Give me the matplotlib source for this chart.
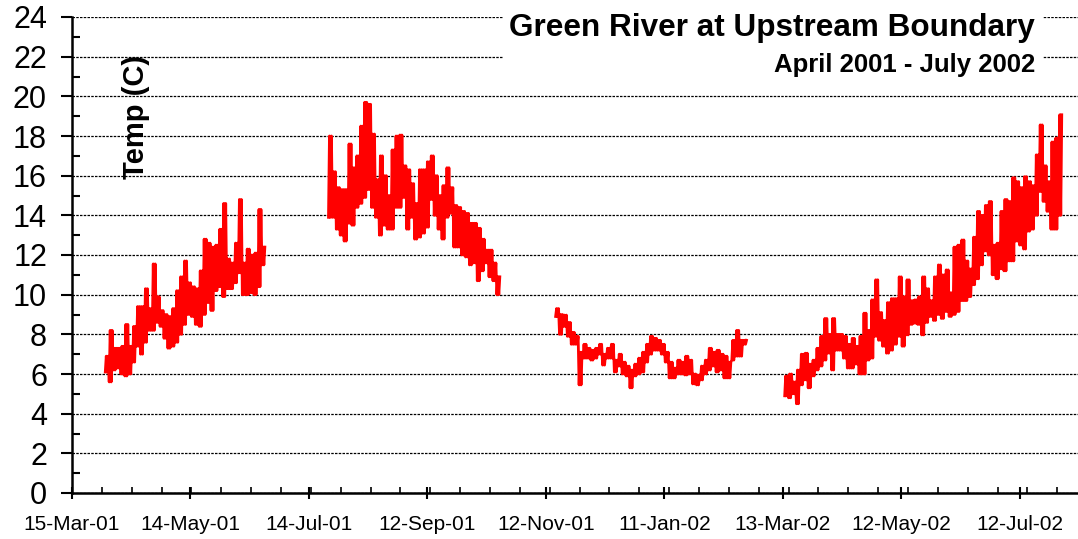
import matplotlib
matplotlib.use("Agg")
import matplotlib.pyplot as plt
import matplotlib.dates as mdates
from matplotlib.patches import Rectangle
import numpy as np
from datetime import datetime

plt.rcParams['font.family'] = ['Liberation Sans', 'DejaVu Sans']

# day 0 of the record / left end of the x axis
origin = datetime(2001, 3, 15)

# each segment: first day (days after origin), then 2-day low / high temps (C)
seg_starts = [17, 131, 247, 364]

seg1_lo = [6.1, 5.6, 6.2, 6.3, 6.0, 5.9, 6.0, 6.6, 7.4, 7.0,
           7.6, 8.2, 8.2, 8.6, 8.4, 7.8, 7.3, 7.4, 7.6, 8.0,
           8.5, 9.0, 8.9, 8.5, 8.4, 9.0, 9.6, 9.2, 10.2, 10.4,
           9.9, 10.3, 10.3, 10.6, 11.1, 10.0, 10.0, 10.1, 10.0, 10.4,
           11.5]
seg1_hi = [6.9, 8.2, 7.3, 7.3, 7.4, 8.5, 7.4, 8.4, 9.4, 9.4,
           10.3, 9.3, 11.55, 9.9, 9.2, 9.0, 8.9, 9.3, 10.2, 10.9,
           11.7, 10.6, 10.4, 10.3, 11.2, 12.8, 12.6, 12.4, 12.5, 13.3,
           14.6, 11.8, 11.6, 12.6, 14.8, 11.6, 12.3, 12.0, 12.1, 14.3,
           12.4]

seg2_lo = [13.9, 13.9, 13.3, 13.0, 12.7, 13.6, 13.5, 14.4, 14.6, 14.9,
           15.3, 14.4, 13.9, 13.0, 13.5, 13.3, 13.3, 14.4, 14.4, 14.9,
           13.3, 13.9, 12.8, 12.9, 13.1, 13.4, 14.8, 14.0, 13.3, 12.8,
           13.9, 14.1, 12.4, 12.4, 12.0, 11.9, 11.5, 11.6, 10.7, 11.2,
           11.6, 10.9, 10.7, 10.0]
seg2_hi = [18.0, 16.2, 15.4, 15.3, 15.3, 17.6, 16.4, 17.0, 18.5, 19.7,
           19.6, 18.1, 15.8, 17.0, 16.0, 15.0, 17.3, 18.0, 18.05, 16.5,
           16.3, 15.6, 14.6, 16.3, 16.3, 16.7, 17.0, 16.0, 15.0, 15.5,
           16.4, 15.4, 14.5, 14.4, 14.2, 14.1, 13.6, 13.6, 13.35, 12.8,
           12.25, 12.25, 11.6, 10.9]

seg3_lo = [8.9, 8.0, 8.4, 7.9, 7.5, 7.5, 5.45, 6.8, 6.8, 6.7,
           6.8, 7.0, 6.45, 6.8, 6.8, 6.1, 6.4, 6.0, 5.9, 5.3,
           5.9, 6.0, 6.1, 6.6, 7.0, 7.2, 7.2, 7.0, 6.6, 5.8,
           5.8, 6.0, 6.0, 5.95, 6.0, 5.5, 5.45, 5.7, 6.0, 6.2,
           6.4, 6.1, 6.2, 5.8, 5.8, 6.7, 6.9, 6.9, 7.5]
seg3_hi = [9.3, 9.0, 8.97, 8.6, 8.1, 7.9, 7.1, 7.5, 7.3, 7.2,
           7.3, 7.5, 7.0, 7.3, 7.5, 6.7, 7.0, 6.6, 6.4, 6.2,
           6.5, 6.8, 7.1, 7.5, 7.9, 7.8, 7.7, 7.5, 7.1, 6.6,
           6.3, 6.7, 6.6, 6.9, 6.7, 6.0, 5.95, 6.4, 6.7, 7.3,
           7.1, 7.2, 7.0, 6.9, 6.6, 7.7, 8.2, 7.7, 7.7]

seg4_lo = [4.9, 4.8, 5.0, 4.5, 5.45, 5.7, 5.3, 5.9, 6.2, 6.4,
           6.7, 7.05, 6.2, 7.2, 7.2, 6.8, 6.3, 6.3, 6.5, 6.0,
           6.0, 6.7, 6.8, 7.9, 7.7, 7.4, 7.05, 7.2, 7.5, 7.9,
           7.4, 7.97, 8.5, 8.56, 8.5, 7.97, 8.6, 8.9, 8.7, 9.0,
           8.8, 9.15, 8.9, 9.0, 9.15, 9.7, 9.7, 9.9, 10.5, 10.8,
           11.5, 12.2, 12.0, 11.0, 10.8, 11.3, 11.2, 11.7, 11.7, 12.7,
           12.5, 12.3, 13.2, 13.3, 14.0, 15.2, 14.7, 14.2, 13.3, 13.3,
           14.0]
seg4_hi = [5.9, 6.0, 5.6, 6.2, 7.0, 7.05, 6.5, 6.7, 7.3, 7.9,
           8.8, 8.0, 8.8, 8.0, 8.0, 7.9, 7.5, 7.8, 7.4, 7.9,
           9.07, 8.2, 9.74, 10.75, 9.1, 8.7, 9.6, 9.8, 9.8, 10.9,
           9.9, 10.75, 9.7, 9.74, 9.9, 10.9, 10.3, 9.7, 10.9, 11.5,
           11.0, 11.25, 10.1, 12.4, 12.5, 12.76, 11.7, 11.3, 12.9, 14.2,
           14.0, 14.5, 14.7, 12.5, 12.6, 14.2, 14.8, 14.7, 15.9, 15.7,
           15.4, 15.95, 15.7, 15.5, 17.05, 18.56, 16.5, 15.7, 17.7, 17.9,
           19.07]

segments = [(seg1_lo, seg1_hi), (seg2_lo, seg2_hi),
            (seg3_lo, seg3_hi), (seg4_lo, seg4_hi)]

fig = plt.figure(figsize=(10.78, 5.39), dpi=100)
ax = fig.add_axes([72 / 1078, 46 / 539, 1 - 72 / 1078, 476 / 539])

x0 = mdates.date2num(origin)
for start, (lo, hi) in zip(seg_starts, segments):
    # each 2-day bin swings low-high twice a day -> dense diurnal band
    vals = np.column_stack([lo, hi, lo, hi]).ravel()
    days = x0 + start + 0.5 * np.arange(len(vals))
    ax.plot(days, vals, color='#ff0000', lw=2.0, zorder=2)

ax.set_xlim(x0, x0 + 513.8)
ax.set_ylim(0, 24)

# axis ticks
ax.set_xticks(x0 + 60.5 * np.arange(9))
ax.set_xticks(x0 + 15.25 * np.arange(34), minor=True)
ax.xaxis.set_major_formatter(mdates.DateFormatter('%d-%b-%y'))
ax.set_yticks(np.arange(0, 25, 2))
ax.set_yticks(np.arange(1, 24, 2), minor=True)

ax.tick_params(axis='x', which='major', direction='inout', length=8, width=1.5,
               labelsize=15, pad=12)
ax.tick_params(axis='x', which='minor', direction='in', length=4, width=1.2)
ax.tick_params(axis='y', which='major', direction='out', length=8, width=1.5,
               labelsize=22, pad=10)
ax.tick_params(axis='y', which='minor', direction='in', length=6, width=1.5)

ax.yaxis.grid(True, which='major', color='black', linestyle=(0, (2, 1)), lw=0.9)
ax.set_axisbelow(True)

for side in ['top', 'right']:
    ax.spines[side].set_visible(False)
for side in ['left', 'bottom']:
    ax.spines[side].set_linewidth(1.8)

# white patch behind the titles
ax.add_patch(Rectangle((503 / 1078, 1 - 82 / 539), 540 / 1078, 74 / 539,
                       transform=fig.transFigure, facecolor='white',
                       edgecolor='none', zorder=3, clip_on=False))
fig.text(1035 / 1078, 1 - 28 / 539, 'Green River at Upstream Boundary',
         ha='right', va='center', fontsize=22.7, fontweight='bold', zorder=4)
fig.text(1035 / 1078, 1 - 65 / 539, 'April 2001 - July 2002',
         ha='right', va='center', fontsize=18.5, fontweight='bold', zorder=4)

fig.text(136 / 1078, 1 - 117 / 539, 'Temp (C)', rotation=90,
         ha='center', va='center', fontsize=21, fontweight='bold')

fig.savefig('out.png', dpi=100)
